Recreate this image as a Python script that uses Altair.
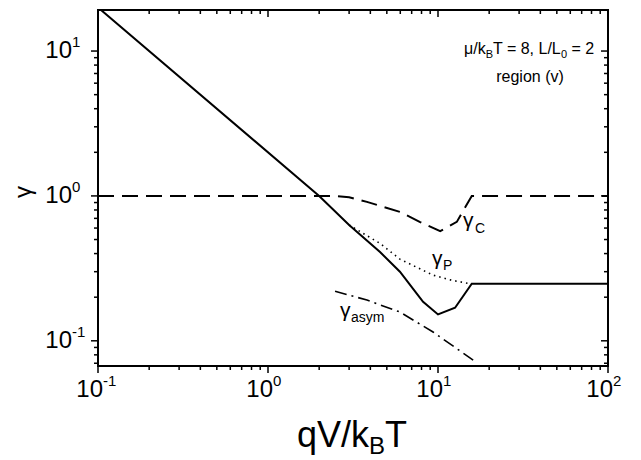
import altair as alt
import pandas as pd

# ---- data ----
solid_x = [0.1, 2.0, 3.0, 4.56, 5.97, 7.5, 8.17, 10.0, 12.6, 15.8, 100.0]
solid_y = [20.0, 1.0, 0.63, 0.41, 0.30, 0.212, 0.186, 0.152, 0.169, 0.248, 0.248]

dotted_x = [3.0, 4.56, 5.97, 9.35, 12.0, 15.4]
dotted_y = [0.63, 0.47, 0.366, 0.284, 0.262, 0.248]

dashed_x = [0.1, 2.5, 3.0, 3.82, 5.97, 7.8, 10.3, 12.9, 15.8, 100.0]
dashed_y = [1.0, 1.0, 0.98, 0.91, 0.776, 0.662, 0.571, 0.662, 1.0, 1.0]

dashdot_x = [2.48, 3.82, 5.97, 9.35, 16.1]
dashdot_y = [0.22, 0.191, 0.158, 0.115, 0.0736]

x_major = [0.1, 1.0, 10.0, 100.0]
x_exps = ["-1", "0", "1", "2"]
y_major = [0.1, 1.0, 10.0]
y_exps = ["-1", "0", "1"]
x_minor = [k * 10.0 ** d for d in (-1, 0, 1) for k in range(2, 10)]
y_minor = [0.07, 0.08, 0.09] + [k * 10.0 ** d for d in (-1, 0) for k in range(2, 10)]

W, H = 510, 356
FONT = "Liberation Sans"
xs = alt.Scale(type="log", domain=[0.1, 100], nice=False)
ys = alt.Scale(type="log", domain=[0.067, 19.2], nice=False)


def line(xv, yv, dash, width):
    df = pd.DataFrame({"x": xv, "y": yv, "o": range(len(xv))})
    kw = dict(color="black", strokeWidth=width, clip=True)
    if dash:
        kw["strokeDash"] = dash
    return alt.Chart(df).mark_line(**kw).encode(
        x=alt.X("x:Q", scale=xs, axis=None),
        y=alt.Y("y:Q", scale=ys, axis=None),
        order="o:Q",
    )


def text(t, x, y, size, align="left", baseline="alphabetic", angle=0):
    df = pd.DataFrame({"t": [t]})
    kw = dict(font=FONT, fontSize=size, align=align, baseline=baseline, color="black")
    if angle:
        kw["angle"] = angle
    return alt.Chart(df).mark_text(**kw).encode(
        x=alt.value(x), y=alt.value(y), text="t:N"
    )


def xticks(vals, y0, y1):
    df = pd.DataFrame({"v": vals})
    return alt.Chart(df).mark_rule(color="black", strokeWidth=1.5).encode(
        x=alt.X("v:Q", scale=xs, axis=None), y=alt.value(y0), y2=alt.value(y1)
    )


def yticks(vals, x0, x1):
    df = pd.DataFrame({"v": vals})
    return alt.Chart(df).mark_rule(color="black", strokeWidth=1.5).encode(
        y=alt.Y("v:Q", scale=ys, axis=None), x=alt.value(x0), x2=alt.value(x1)
    )


layers = []
layers.append(line(dashed_x, dashed_y, [16, 8], 2))
layers.append(line(dotted_x, dotted_y, [1.5, 4], 1.6))
layers.append(line(dashdot_x, dashdot_y, [12, 5, 2, 5], 1.6))
layers.append(line(solid_x, solid_y, None, 2))

# ticks: bottom/left outward, top/right inward (all pointing down/left)
layers += [
    xticks(x_major, H, H + 7), xticks(x_minor, H, H + 4),
    xticks(x_major, 0, 7), xticks(x_minor, 0, 4),
    yticks(y_major, 0, -7), yticks(y_minor, 0, -4),
    yticks(y_major, W, W - 7), yticks(y_minor, W, W - 4),
]

# tick labels
xl = pd.DataFrame({"v": x_major, "b": ["10"] * 4, "e": x_exps})
layers.append(alt.Chart(xl).mark_text(font=FONT, fontSize=24, align="right", baseline="middle", dx=5).encode(
    x=alt.X("v:Q", scale=xs, axis=None), y=alt.value(H + 24), text="b:N"))
layers.append(alt.Chart(xl).mark_text(font=FONT, fontSize=15, align="left", baseline="middle", dx=5, dy=-9).encode(
    x=alt.X("v:Q", scale=xs, axis=None), y=alt.value(H + 24), text="e:N"))
yl = pd.DataFrame({"v": y_major, "b": ["10"] * 3, "e": y_exps})
layers.append(alt.Chart(yl).mark_text(font=FONT, fontSize=24, align="right", baseline="middle").encode(
    y=alt.Y("v:Q", scale=ys, axis=None), x=alt.value(-26), text="b:N"))
layers.append(alt.Chart(yl).mark_text(font=FONT, fontSize=15, align="left", baseline="middle", dy=-9).encode(
    y=alt.Y("v:Q", scale=ys, axis=None), x=alt.value(-26), text="e:N"))

# axis titles
layers += [
    text("qV/k", 199, 437, 36),
    text("B", 271, 444, 24),
    text("T", 287, 437, 36),
    text("γ", -74, 182, 24, align="center", baseline="middle", angle=270),
]

# annotation
layers += [
    text("μ/k", 366, 44, 16),
    text("B", 387.7, 48, 11),
    text("T = 8, L/L", 395, 44, 16),
    text("0", 463, 48, 11),
    text("= 2", 473.5, 44, 16),
    text("region (v)", 432, 72, 16, align="center"),
]

# series labels
layers += [
    text("γ", 365, 217, 21),
    text("C", 377, 223, 14),
    text("γ", 334, 255, 21),
    text("P", 345, 260, 14),
    text("γ", 242, 307, 21),
    text("asym", 253, 312, 14),
]

chart = alt.layer(*layers).properties(
    width=W, height=H,
    autosize=alt.AutoSizeParams(type="none"),
    padding={"left": 90, "top": 2, "right": 20, "bottom": 92},
).configure_view(stroke="black", strokeWidth=2)

chart.save("out.html", embed_options={"renderer": "svg", "actions": False})
